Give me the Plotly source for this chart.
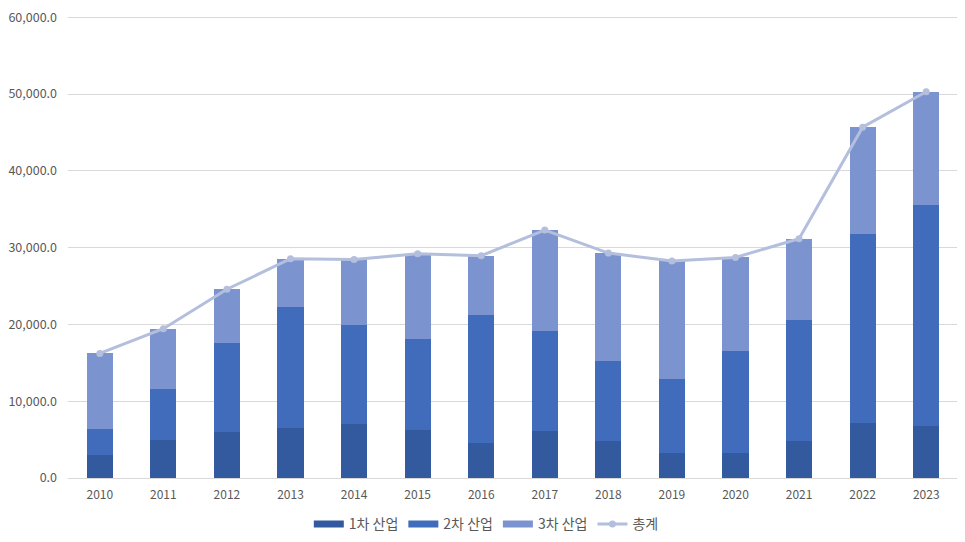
import plotly.graph_objects as go

years = ["2010", "2011", "2012", "2013", "2014", "2015", "2016",
         "2017", "2018", "2019", "2020", "2021", "2022", "2023"]
primary = [3030, 4920, 5950, 6460, 6980, 6250, 4580, 6120, 4830, 3290, 3290, 4830, 7150, 6760]
secondary = [3300, 6680, 11690, 15810, 12970, 11820, 16660, 13060, 10370, 9640, 13230, 15800, 24660, 28740]
tertiary = [9900, 7840, 6940, 6290, 8520, 11130, 7710, 13110, 14090, 15340, 12210, 10530, 13880, 14810]
total = [16230, 19440, 24580, 28560, 28470, 29200, 28950, 32290, 29290, 28270, 28730, 31160, 45690, 50310]
y_ticks = [0, 10000, 20000, 30000, 40000, 50000, 60000]

series_names = ["1차 산업", "2차 산업", "3차 산업"]
series_colors = ["#335a9e", "#416cbb", "#7b93cf"]
total_name = "총계"
total_color = "#b4bedd"

font_family = "Noto Sans CJK KR, Noto Sans, sans-serif"

fig = go.Figure()
for vals, name, color in zip([primary, secondary, tertiary], series_names, series_colors):
    fig.add_trace(go.Bar(x=years, y=vals, name=name, showlegend=False,
                         marker=dict(color=color, line=dict(width=0))))
fig.add_trace(go.Scatter(x=years, y=total, name=total_name, mode="lines+markers", showlegend=False,
                         line=dict(color=total_color, width=3),
                         marker=dict(color=total_color, size=7, symbol="circle")))

# legend-only entries (wide rectangular swatches like the reference)
for name, color in zip(series_names, series_colors):
    fig.add_trace(go.Scatter(x=[None], y=[None], name=name, mode="lines",
                             line=dict(color=color, width=7), showlegend=True))
fig.add_trace(go.Scatter(x=[None], y=[None], name=total_name, mode="lines+markers",
                         line=dict(color=total_color, width=3),
                         marker=dict(color=total_color, size=7), showlegend=True))

fig.update_layout(
    barmode="stack",
    bargap=0.59,
    width=965, height=542,
    margin=dict(l=60, r=15, t=7, b=72, autoexpand=False),
    plot_bgcolor="white", paper_bgcolor="white",
    font=dict(family=font_family, size=12, color="#595959"),
    legend=dict(orientation="h", x=0.47, xanchor="center", y=-0.1, yanchor="middle",
                font=dict(size=14, color="#595959"), traceorder="normal",
                itemwidth=30, tracegroupgap=0),
    showlegend=True,
)
fig.update_xaxes(range=[-0.5, 13.5], showgrid=False, showline=True, linecolor="#d9d9d9", linewidth=1,
                 ticks="", tickfont=dict(size=12, color="#595959"), automargin=False,
                 ticklabelstandoff=6)
fig.update_yaxes(range=[0, 60300], tickvals=y_ticks, tickformat=",.1f",
                 showgrid=True, gridcolor="#d9d9d9", gridwidth=1, zeroline=False,
                 showline=False, ticks="", ticklen=0, tickfont=dict(size=12.5, color="#595959"),
                 automargin=False, ticklabeloverflow="allow", ticklabelstandoff=10)

fig.write_html("out.html")
